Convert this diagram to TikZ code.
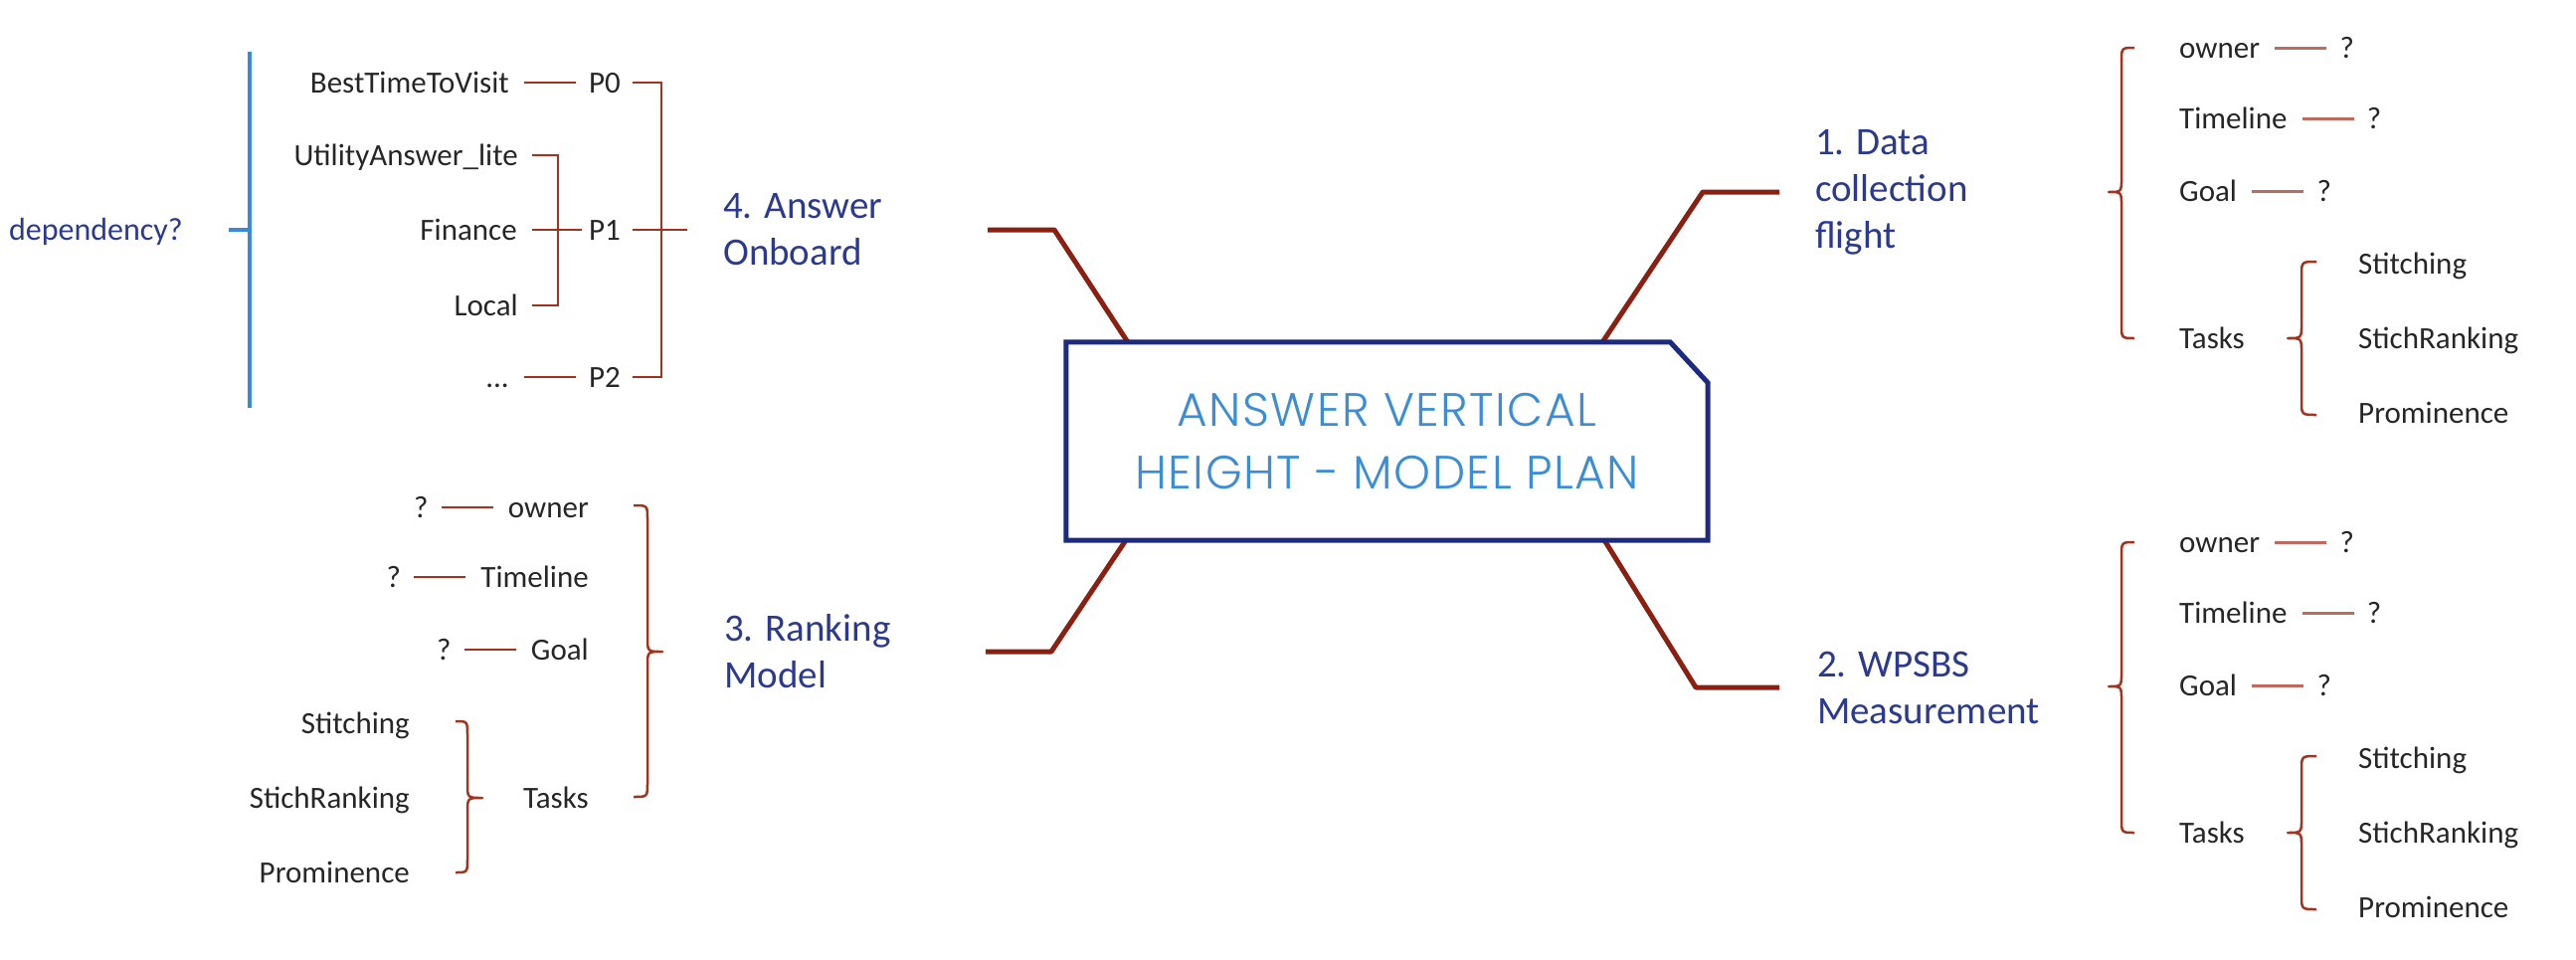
\documentclass[tikz,border=0pt]{standalone}
\usepackage{fontspec}
\setmainfont{Carlito}
\newfontfamily\titlefont[LetterSpace=3]{Poppins Light}
\usetikzlibrary{positioning,calc}
\definecolor{navy}{HTML}{2B3990}
\definecolor{boxblue}{HTML}{1C2A80}
\definecolor{titleblue}{HTML}{3A8DD6}
\definecolor{branchred}{HTML}{8B2012}
\definecolor{subred}{HTML}{A3321F}
\definecolor{lightred}{HTML}{BF6A5E}
\definecolor{depblue}{HTML}{3B8AD6}
\definecolor{leafgray}{HTML}{262626}
\newcommand{\curly}[6]{\draw[brace] (#1,#4) .. controls (#2,#4) .. (#2,#4+14) -- (#2,#5-14) .. controls (#2,#5) .. (#3,#5) .. controls (#2,#5) .. (#2,#5+14) -- (#2,#6-14) .. controls (#2,#6) .. (#1,#6);}
\newcommand{\rightsub}[2]{%
  \node[leaf,anchor=west] (#1own) at (2191,48+#2) {owner};
  \node[leaf,right=80pt of #1own] (#1q1) {?};
  \node[leaf,anchor=west] (#1tim) at (2191,119+#2) {Timeline};
  \node[leaf,right=80pt of #1tim] (#1q2) {?};
  \node[leaf,anchor=west] (#1goal) at (2191,192+#2) {Goal};
  \node[leaf,right=80pt of #1goal] (#1q3) {?};
  \node[leaf,anchor=west] (#1tasks) at (2191,340+#2) {Tasks};
  \node[leaf,anchor=west] (#1st) at (2371,265+#2) {Stitching};
  \node[leaf,anchor=west] (#1sr) at (2371,340+#2) {StichRanking};
  \node[leaf,anchor=west] (#1pr) at (2371,415+#2) {Prominence};
  \draw[subl,conn] (#1own) -- (#1q1);
  \draw[subl,conn] (#1tim) -- (#1q2);
  \draw[subl,conn] (#1goal) -- (#1q3);
  \curly{2146}{2133}{2120}{48+#2}{193+#2}{340+#2}
  \curly{2329}{2314}{2300}{263+#2}{340+#2}{417+#2}
}
\begin{document}
\begin{tikzpicture}[x=1pt,y=-1pt,
  leaf/.style={inner sep=0pt, text height=20pt, text depth=0pt, font=\fontsize{31}{37}\selectfont, text=leafgray},
  blabel/.style={inner sep=0pt, align=left, font=\fontsize{39}{47}\selectfont, text=navy, anchor=west},
  branch/.style={draw=branchred, line width=5pt, line join=round},
  sub/.style={draw=subred, line width=2.5pt},
  subl/.style={draw=lightred, line width=3pt},
  brace/.style={draw=subred, line width=2.5pt, line join=round},
  depline/.style={draw=depblue, line width=3.5pt},
  conn/.style={shorten <=15pt, shorten >=13pt}
]
\useasboundingbox (0,0) rectangle (2590,964);

% central topic
\node[inner sep=0pt, minimum width=645pt, minimum height=199pt] (title) at (1394.5,443.5) {};

% branch labels
\node[blabel] (L4) at (727,231) {4. Answer\\Onboard};
\node[blabel] (L1) at (1825,193) {1. Data\\collection\\flight};
\node[blabel] (L3) at (728,655) {3. Ranking\\Model};
\node[blabel] (L2) at (1827,691) {2. WPSBS\\Measurement};

\coordinate (e4) at (993,231);
\coordinate (e1) at (1789,193);
\coordinate (e3) at (991,655);
\coordinate (e2) at (1789,691);

\draw[branch] ([xshift=62pt]title.north west) -- (1060,231) -- (e4);
\draw[branch] ([xshift=-106pt]title.north east) -- (1712,193) -- (e1);
\draw[branch] ([xshift=60pt]title.south west) -- (1057,655) -- (e3);
\draw[branch] ([xshift=-104pt]title.south east) -- (1705,691) -- (e2);

\draw[draw=boxblue, line width=5pt, fill=white, line join=miter]
  (title.north west) -- ([xshift=-38pt]title.north east) -- ([yshift=-41pt]title.north east)
  -- (title.south east) -- (title.south west) -- cycle;
\node[inner sep=0pt, align=center, font=\titlefont\fontsize{47}{63}\selectfont, text=titleblue]
  (titletext) at (title.center) {ANSWER VERTICAL\\HEIGHT - MODEL PLAN};

% right subtrees
\rightsub{a}{0}
\rightsub{b}{497}

% left bottom subtree (3. Ranking Model)
\node[leaf,anchor=east] (cown) at (592,510) {owner};
\node[leaf,left=80pt of cown] (cq1) {?};
\node[leaf,anchor=east] (ctim) at (592,580) {Timeline};
\node[leaf,left=80pt of ctim] (cq2) {?};
\node[leaf,anchor=east] (cgoal) at (592,653) {Goal};
\node[leaf,left=80pt of cgoal] (cq3) {?};
\node[leaf,anchor=east] (ctasks) at (592,802) {Tasks};
\node[leaf,anchor=east] (cst) at (412,727) {Stitching};
\node[leaf,anchor=east] (csr) at (412,802) {StichRanking};
\node[leaf,anchor=east] (cpr) at (412,877) {Prominence};
\draw[sub,conn] (cown) -- (cq1);
\draw[sub,conn] (ctim) -- (cq2);
\draw[sub,conn] (cgoal) -- (cq3);
\curly{637}{651}{666}{508}{655}{801}
\curly{458}{470}{485}{725}{802}{877}

% left top subtree (4. Answer Onboard)
\node[leaf,anchor=east] (best) at (512,83) {BestTimeToVisit};
\node[leaf,anchor=east] (util) at (521,156) {UtilityAnswer\_lite};
\node[leaf,anchor=east] (fin) at (520,231) {Finance};
\node[leaf,anchor=east] (loc) at (521,307) {Local};
\node[leaf,anchor=east] (dots) at (512,379) {...};
\node[leaf,anchor=west] (p0) at (592,83) {P0};
\node[leaf,anchor=west] (p1) at (592,231) {P1};
\node[leaf,anchor=west] (p2) at (592,379) {P2};
\draw[sub,conn] (best) -- (p0);
\draw[sub,shorten <=15pt, shorten >=7pt] (fin) -- (p1);
\draw[sub,conn] (dots) -- (p2);
\coordinate (k1) at (561,307);
\coordinate (k0) at (665,379);
\coordinate (kp1) at (691,231);
\draw[sub] ([xshift=14pt]util.east) -| (k1) -- ([xshift=14pt]loc.east);
\draw[sub] ([xshift=12pt]p0.east) -| (k0) -- ([xshift=12pt]p2.east);
\draw[sub] ([xshift=12pt]p1.east) -- (kp1);

% dependency
\node[inner sep=0pt, anchor=east, text height=20pt, text depth=0pt, font=\fontsize{32}{38}\selectfont, text=navy] (dep) at (184,231) {dependency?};
\coordinate (dtop) at (251,52);
\coordinate (dbot) at (251,410);
\coordinate (dmid) at (251,231);
\draw[depline] (dtop) -- (dbot);
\draw[depline] ([xshift=46pt]dep.east) -- (dmid);
\end{tikzpicture}
\end{document}
